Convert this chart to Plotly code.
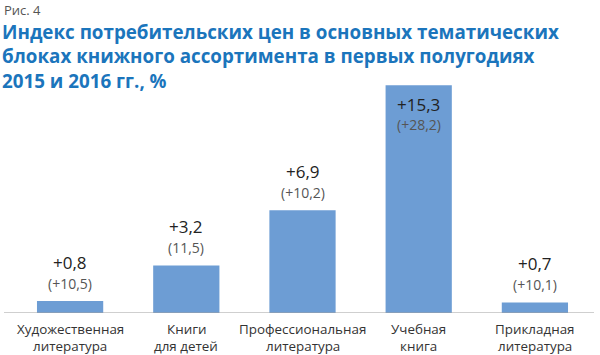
import plotly.graph_objects as go

categories = ["Художественная<br>литература", "Книги<br>для детей", "Профессиональная<br>литература",
              "Учебная<br>книга", "Прикладная<br>литература"]
values_2016 = [0.8, 3.2, 6.9, 15.3, 0.7]
labels_2016 = ["+0,8", "+3,2", "+6,9", "+15,3", "+0,7"]
labels_2015 = ["(+10,5)", "(11,5)", "(+10,2)", "(+28,2)", "(+10,1)"]

fig = go.Figure()
fig.add_trace(go.Bar(x=categories, y=values_2016, marker_color="#6d9dd4",
                     marker_line_width=0, hoverinfo="skip"))

FONT = "Open Sans"
for c, v, a, b in zip(categories, values_2016, labels_2016, labels_2015):
    inside = v > 12
    s1 = -19 if inside else 39
    s2 = -39 if inside else 18
    fig.add_annotation(x=c, y=v, text=a, showarrow=False, yshift=s1,
                       font=dict(family=FONT, size=17, color="#222222"))
    fig.add_annotation(x=c, y=v, text=b, showarrow=False, yshift=s2,
                       font=dict(family=FONT, size=14, color="#555555"))
    # category label, one annotation per line for tighter line spacing
    for i, line in enumerate(c.split("<br>")):
        fig.add_annotation(x=c, y=0, text=line, showarrow=False, yanchor="middle",
                           yshift=-(16 + 17 * i), borderpad=0,
                           font=dict(family=FONT, size=13.4, color="#333333"))

fig.add_annotation(xref="paper", yref="paper", x=-10/581, y=(313-10)/253, xanchor="left",
                   yanchor="middle", text="Рис. 4", showarrow=False,
                   font=dict(family=FONT, size=13, color="#555555"))

fig.add_shape(type="line", xref="paper", yref="y", x0=-8/581, x1=582/581, y0=0, y1=0,
              line=dict(color="#a0a0a0", width=1.2))

fig.update_layout(
    width=600, height=355,
    margin=dict(l=12, r=7, t=60, b=42, autoexpand=False),
    paper_bgcolor="white", plot_bgcolor="white",
    showlegend=False, bargap=0.43,
    title=dict(text="<b>Индекс потребительских цен в основных тематических<br>"
                    "блоках книжного ассортимента в первых полугодиях<br>"
                    "2015 и 2016 гг., %</b>",
               xref="container", yref="container", x=0.0, y=0.89,
               xanchor="left", yanchor="top", pad=dict(l=2, t=0, b=0, r=0),
               font=dict(family=FONT, size=18.8, color="#1b75bc")),
    xaxis=dict(showline=False, showgrid=False, zeroline=False, automargin=False,
               showticklabels=False, ticks=""),
    yaxis=dict(range=[0, 17], visible=False, showgrid=False, zeroline=False, automargin=False),
)

fig.write_html("out.html", config={"displayModeBar": False},
               post_script="document.body.style.margin='0';")
